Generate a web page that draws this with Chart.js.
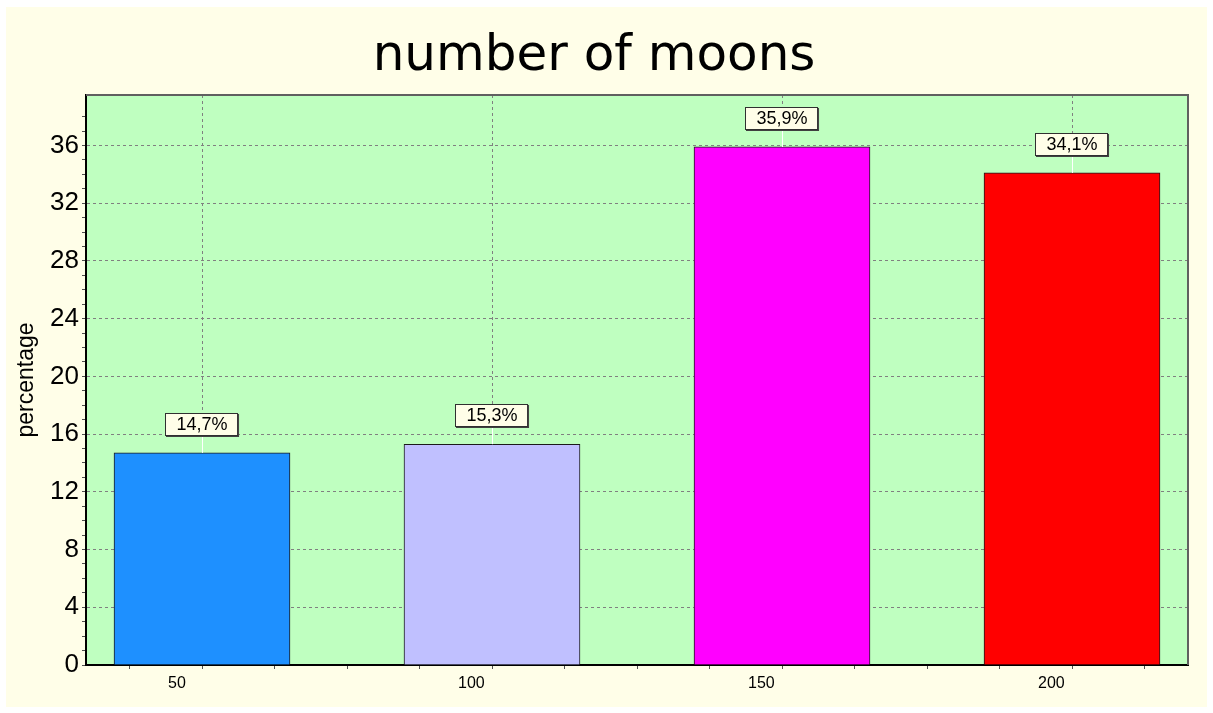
<!DOCTYPE html>
<html>
<head>
<meta charset="utf-8">
<script src="https://cdn.jsdelivr.net/npm/chart.js@4.4.1/dist/chart.umd.min.js"></script>
<style>
  html, body { margin: 0; padding: 0; background: #ffffff; }
  canvas { display: block; }
</style>
</head>
<body>
<canvas id="moons" width="1213" height="713"></canvas>
<script>
// data
const categories = [50, 100, 150, 200];
const percentages = [14.7, 15.3, 35.9, 34.1];
const barColors = ['#1e90ff', '#c0c0ff', '#ff00ff', '#ff0000'];
const yLabelStep = 4;
const xLabelStep = 50;

const points = categories.map((c, i) => ({ x: c, y: percentages[i] }));

// cream page + green plot area
const backdrop = {
  id: 'backdrop',
  beforeDraw(chart) {
    const { ctx, chartArea: a } = chart;
    ctx.save();
    ctx.fillStyle = '#fffee8';
    ctx.fillRect(6, 7, chart.width - 12, chart.height - 13);
    ctx.fillStyle = '#bfffc0';
    ctx.fillRect(a.left, a.top, a.right - a.left, a.bottom - a.top);
    ctx.restore();
  },
  afterDatasetsDraw(chart) {
    const { ctx, chartArea: a } = chart;
    ctx.save();
    ctx.strokeStyle = '#606060';
    ctx.lineWidth = 2;
    ctx.beginPath();
    ctx.moveTo(a.left, a.top);
    ctx.lineTo(a.right, a.top);
    ctx.lineTo(a.right, a.bottom);
    ctx.stroke();
    ctx.restore();
  }
};

// value boxes above each bar
const valueBoxes = {
  id: 'valueBoxes',
  afterDatasetsDraw(chart) {
    const { ctx } = chart;
    const meta = chart.getDatasetMeta(0);
    ctx.save();
    ctx.font = '18px "Liberation Sans", Arial, sans-serif';
    ctx.textAlign = 'center';
    ctx.textBaseline = 'middle';
    meta.data.forEach((bar, i) => {
      const txt = percentages[i].toFixed(1).replace('.', ',') + '%';
      const w = ctx.measureText(txt).width + 22;
      const h = 23;
      const cx = bar.x;
      const bottom = Math.round(bar.y - 17);
      // connector
      ctx.strokeStyle = '#ffffff';
      ctx.lineWidth = 1;
      ctx.beginPath();
      ctx.moveTo(Math.round(cx) + 0.5, bottom);
      ctx.lineTo(Math.round(cx) + 0.5, bar.y);
      ctx.stroke();
      // shadow
      ctx.fillStyle = '#404040';
      ctx.fillRect(Math.round(cx - w / 2) + 1, bottom - h + 1, w, h);
      ctx.fillStyle = '#fffee8';
      ctx.fillRect(Math.round(cx - w / 2), bottom - h, w, h);
      ctx.strokeStyle = '#303030';
      ctx.strokeRect(Math.round(cx - w / 2) + 0.5, bottom - h + 0.5, w - 1, h - 1);
      ctx.fillStyle = '#000000';
      ctx.fillText(txt, cx, bottom - h / 2 + 1);
    });
    ctx.restore();
  }
};

new Chart(document.getElementById('moons'), {
  type: 'bar',
  data: {
    datasets: [{
      data: points,
      backgroundColor: barColors,
      borderColor: '#1a1a1a',
      borderWidth: 1,
      barThickness: 176
    }]
  },
  options: {
    responsive: false,
    animation: false,
    layout: { padding: { left: 0, right: 25, top: 0, bottom: 0 } },
    plugins: {
      legend: { display: false },
      tooltip: { enabled: false },
      title: {
        display: true,
        text: 'number of moons',
        color: '#000000',
        font: { family: '"DejaVu Sans", Verdana, sans-serif', size: 50, weight: 'normal', lineHeight: 1.2 },
        padding: { top: 27, bottom: 8 }
      }
    },
    scales: {
      x: {
        type: 'linear',
        offset: false,
        min: 30,
        max: 220,
        afterFit(scale) { scale.height = 48; },
        afterBuildTicks(scale) {
          scale.ticks = scale.ticks.filter(t => t.value % 12.5 === 0 && t.value > 30 && t.value < 220);
        },
        ticks: {
          stepSize: 12.5,
          autoSkip: false,
          maxRotation: 0,
          align: 'start',
          labelOffset: -34,
          padding: 5,
          color: '#000000',
          font: { family: '"Liberation Sans", Arial, sans-serif', size: 16 },
          callback: v => (v % xLabelStep === 0 ? String(v) : '')
        },
        grid: {
          offset: false,
          drawOnChartArea: true,
          color: c => (c.tick && c.tick.value % xLabelStep === 0 ? '#808080' : 'rgba(0,0,0,0)'),
          tickColor: '#505050',
          tickLength: 4,
          lineWidth: 1
        },
        border: { color: '#000000', width: 2, dash: [3, 3] }
      },
      y: {
        min: 0,
        max: 39.5,
        afterFit(scale) { scale.width = 86; },
        afterBuildTicks(scale) {
          scale.ticks = scale.ticks.filter(t => Number.isInteger(t.value));
        },
        ticks: {
          stepSize: 1,
          autoSkip: false,
          padding: 3,
          color: '#000000',
          font: { family: '"Liberation Sans", Arial, sans-serif', size: 26 },
          callback: v => (v % yLabelStep === 0 ? String(v) : '')
        },
        grid: {
          color: c => (c.tick && c.tick.value % yLabelStep === 0 && c.tick.value !== 0 ? '#808080' : 'rgba(0,0,0,0)'),
          tickColor: '#505050',
          tickLength: 4,
          lineWidth: 1
        },
        border: { color: '#000000', width: 2, dash: [3, 3] },
        title: {
          display: true,
          text: 'percentage',
          color: '#000000',
          font: { family: '"Liberation Sans", Arial, sans-serif', size: 23 },
          padding: { top: 13, bottom: 0 }
        }
      }
    }
  },
  plugins: [backdrop, valueBoxes]
});
</script>
</body>
</html>
